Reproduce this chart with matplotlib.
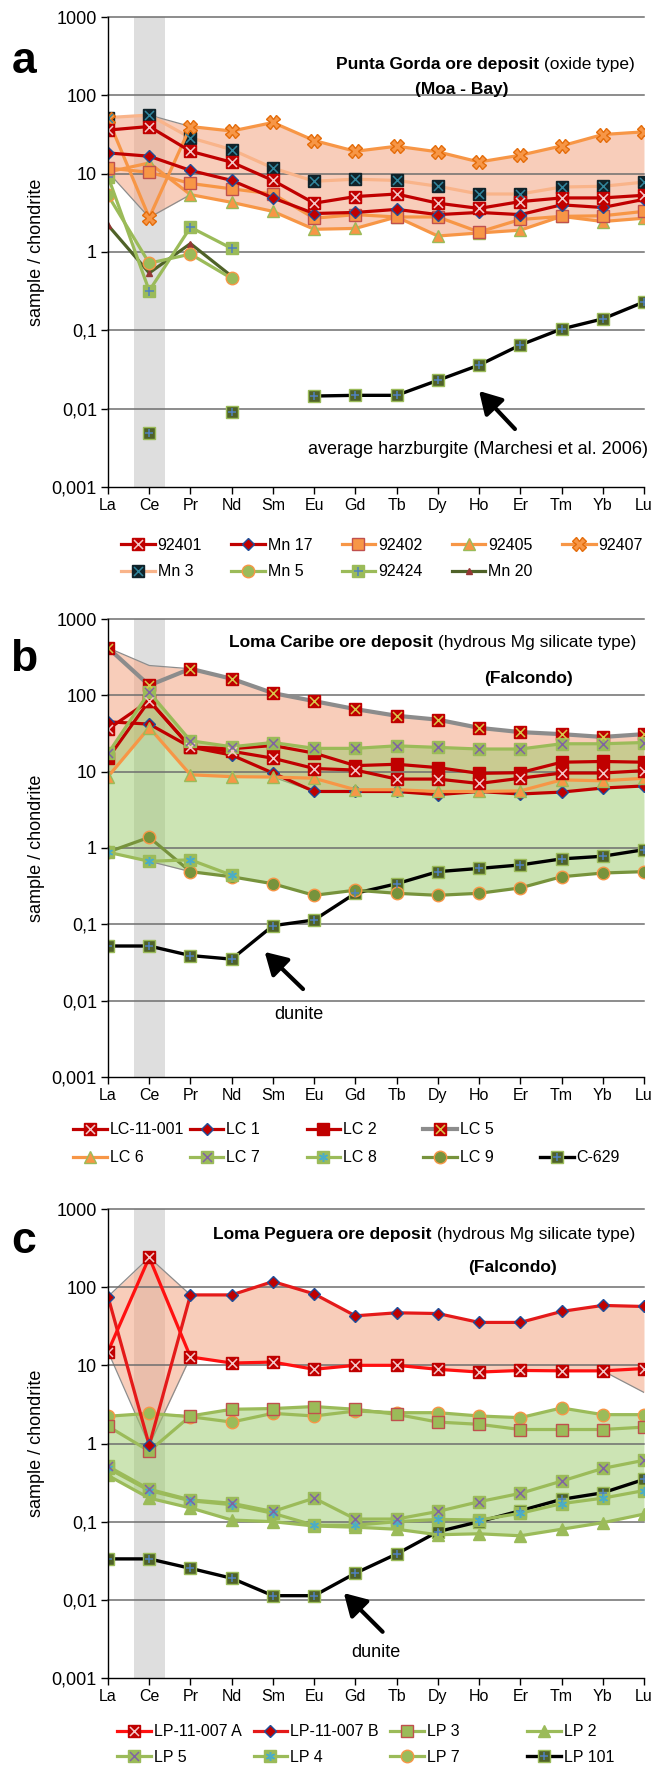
import numpy as np
import matplotlib as mpl
import matplotlib.pyplot as plt
from matplotlib.legend_handler import HandlerTuple

mpl.rcParams['font.family'] = ['Liberation Sans', 'DejaVu Sans']

REE = ["La", "Ce", "Pr", "Nd", "Sm", "Eu", "Gd", "Tb", "Dy", "Ho", "Er", "Tm", "Yb", "Lu"]
YTICKS = [0.001, 0.01, 0.1, 1, 10, 100, 1000]
YLABELS = ["0,001", "0,01", "0,1", "1", "10", "100", "1000"]
nan = np.nan

# a - Punta Gorda (Moa - Bay)
a_92401 = [36, 40, 19.3, 14, 8.2, 4.2, 5.1, 5.5, 4.2, 3.6, 4.4, 4.9, 4.9, 5.3]
a_mn17 = [18.4, 16.7, 11, 8.2, 4.9, 3.1, 3.2, 3.5, 3.0, 3.2, 3.0, 4.0, 3.7, 4.7]
a_92402 = [11.8, 10.4, 7.5, 6.4, 5.5, 2.7, 3.0, 2.8, 2.8, 1.8, 2.6, 2.85, 2.9, 3.3]
a_92405 = [10.5, 13.7, 5.4, 4.3, 3.3, 1.95, 2.0, 2.8, 1.6, 1.75, 1.9, 2.85, 2.45, 2.7]
a_92407 = [50, 2.75, 40, 35, 45, 26.5, 19.3, 22.4, 19, 14.1, 17.2, 22.6, 31.6, 34.2]
a_mn3 = [52, 56, 28.7, 20.3, 11.8, 8.0, 8.5, 8.2, 6.9, 5.5, 5.5, 6.75, 6.9, 7.8]
a_mn5 = [5.3, 0.72, 0.94, 0.46] + [nan] * 10
a_92424 = [9.2, 0.32, 2.07, 1.11] + [nan] * 10
a_mn20 = [2.2, 0.54, 1.28, 0.49] + [nan] * 10
a_harz = [nan, 0.0049, nan, 0.0091, nan, 0.0145, 0.0148, 0.0148, 0.023, 0.036,
          0.065, 0.104, 0.14, 0.23]

# b - Loma Caribe (Falcondo)
b_lc11001 = [36, 85, 21, 18.5, 15, 11, 10.5, 8, 8, 7, 8.2, 9.6, 9.6, 10.3]
b_lc1 = [45, 42, 21, 16.5, 9.6, 5.5, 5.5, 5.5, 5.0, 5.5, 5.1, 5.4, 6.1, 6.5]
b_lc2 = [15, 85, 21, 20, 22, 17.5, 12, 12.5, 11.3, 9.5, 9.7, 13.3, 13.6, 13.3]
b_lc5 = [419, 135, 223, 165, 107, 84, 66, 54, 48, 37.5, 33, 31, 28.5, 31]
b_lc6 = [8.6, 37.8, 9.1, 8.6, 8.5, 8.2, 5.8, 5.8, 5.5, 5.5, 5.6, 7.8, 7.6, 8.2]
b_lc7 = [17.3, 110, 25.4, 21.2, 24.1, 20.2, 20.2, 21.8, 20.8, 19.8, 19.8, 23.2, 23.2, 24.1]
b_lc8 = [0.88, 0.67, 0.70, 0.44] + [nan] * 10
b_lc9 = [0.885, 1.38, 0.49, 0.42, 0.34, 0.24, 0.28, 0.255, 0.24, 0.255, 0.30, 0.42, 0.47, 0.49]
b_c629 = [0.052, 0.052, 0.039, 0.035, 0.096, 0.114, 0.255, 0.34, 0.49, 0.54, 0.60, 0.72, 0.78, 0.95]
b_field_top = [419, 246, 223, 165, 107, 84, 66, 54, 48, 37.5, 33, 31, 28.5, 31]

# c - Loma Peguera (Falcondo)
c_lpA = [15, 240, 12.8, 10.7, 11, 8.9, 10, 10, 8.9, 8.2, 8.6, 8.5, 8.5, 9.1]
c_lpB = [75.8, 0.95, 79.6, 79.6, 118, 82, 43, 47, 46, 35.4, 35.4, 48.9, 58.4, 56.6]
c_lp3 = [1.66, 0.80, 2.25, 2.74, 2.8, 2.97, 2.74, 2.36, 1.88, 1.76, 1.51, 1.51, 1.51, 1.62]
c_lp2 = [0.39, 0.20, 0.15, 0.105, 0.10, 0.088, 0.085, 0.080, 0.068, 0.070, 0.066, 0.080, 0.097, 0.125]
c_lp5 = [0.51, 0.26, 0.19, 0.172, 0.135, 0.20, 0.108, 0.108, 0.135, 0.18, 0.23, 0.33, 0.48, 0.61]
c_lp4 = [0.48, 0.25, 0.185, 0.165, 0.128, 0.09, 0.09, 0.10, 0.107, 0.105, 0.128, 0.17, 0.20, 0.25]
c_lp7 = [2.23, 2.43, 2.2, 1.88, 2.43, 2.25, 2.6, 2.48, 2.48, 2.25, 2.14, 2.85, 2.34, 2.34]
c_lp101 = [0.0334, 0.0334, 0.0253, 0.0189, 0.0113, 0.0113, 0.0219, 0.0386, 0.0745, 0.10,
           0.138, 0.193, 0.234, 0.347]
c_field_low = [15, 0.95, 12.8, 10.7, 11, 8.9, 10, 10, 8.9, 8.2, 8.6, 8.5, 8.5, 4.5]

RED = '#C00000'
ORANGE = '#F79646'
LORANGE = '#F9B48A'
LGREEN = '#9BBB59'
OLIVE = '#77933C'
DOLIVE = '#4F6228'
BLUE = '#4F81BD'
PINK = '#F4C7C7'
SALMON = '#F4A582'
GREEN = '#9BCB6A'
ASTER = (6, 2, 0)

W, H = 654, 1766
X = np.arange(len(REE))
fig = plt.figure(figsize=(W / 100, H / 100), dpi=100)


def make_ax(top, bottom):
    ax = fig.add_axes([108 / W, 1 - bottom / H, 536 / W, (bottom - top) / H])
    ax.set_yscale('log')
    ax.set_ylim(0.001, 1000)
    ax.set_xlim(0, 13)
    ax.set_xticks(X)
    ax.set_xticklabels(REE, fontsize=11.5)
    ax.set_yticks(YTICKS)
    ax.set_yticklabels(YLABELS, fontsize=13)
    ax.yaxis.set_minor_locator(mpl.ticker.NullLocator())
    for s in ['top', 'right']:
        ax.spines[s].set_visible(False)
    for s in ['left', 'bottom']:
        ax.spines[s].set_linewidth(1.0)
        ax.spines[s].set_zorder(6)
    ax.tick_params(direction='out', length=5, width=1, pad=3)
    for v in YTICKS[1:]:
        ax.axhline(v, color='#6E6E6E', lw=1.1, zorder=1.7, clip_on=False)
    ax.axvspan(0.63, 1.38, color='#DEDEDE', lw=0, zorder=0.5)
    ax.set_ylabel('sample / chondrite', fontsize=13)
    ax.yaxis.set_label_coords(-(108 - 45) / 536, 0.5)
    return ax


def draw(ax, y, lc, mk, mfc, mec, ms=9, lw=2.3, over=None, oc=None, z=4):
    h1, = ax.plot(X, y, color=lc, lw=lw, marker=mk, ms=ms, mfc=mfc, mec=mec,
                  mew=1, zorder=z)
    if over is None:
        return h1
    h2, = ax.plot(X, y, ls='none', marker=over, ms=ms * 0.72, mec=oc, mfc=oc,
                  mew=1.1, zorder=z + 0.1)
    return (h1, h2)


def field(ax, lo, hi, color, alpha, z, edge='#8C8C8C'):
    ax.fill_between(X, lo, hi, color=color, alpha=alpha, lw=0, zorder=z)
    ax.plot(X, lo, color=edge, lw=0.9, zorder=z + 0.05)
    ax.plot(X, hi, color=edge, lw=0.9, zorder=z + 0.05)


def title(ax, bold, reg, xr, y, line2, x2, y2):
    t = ax.text(xr, y, reg, transform=ax.transAxes, ha='right', va='center',
                fontsize=12.5)
    fig.canvas.draw()
    bb = t.get_window_extent()
    x0 = ax.transAxes.inverted().transform((bb.x0, bb.y0))[0]
    ax.text(x0, y, bold, transform=ax.transAxes, ha='right', va='center',
            fontsize=12.5, fontweight='bold')
    ax.text(x2, y2, line2, transform=ax.transAxes, ha='center', va='center',
            fontsize=12.5, fontweight='bold')


def legend(handles, labels, x0, pitch, y):
    for i, (hh, lab) in enumerate(zip(handles, labels)):
        fig.legend([hh], [lab], loc='center left',
                   bbox_to_anchor=((x0 + i * pitch) / W, 1 - y / H),
                   frameon=False, borderpad=0, borderaxespad=0,
                   handlelength=2.1, handletextpad=0.2, fontsize=11.5,
                   handler_map={tuple: HandlerTuple(ndivide=1)})


def arrow(ax, tip, tail, text, tpos, ha='center'):
    ax.annotate('', xy=tip, xytext=tail,
                arrowprops=dict(arrowstyle='-|>,head_length=0.6,head_width=0.35',
                                color='black', lw=3, mutation_scale=22,
                                shrinkA=0, shrinkB=0), zorder=7)
    ax.text(tpos[0], tpos[1], text, ha=ha, va='center', fontsize=13, zorder=7)


# ---------------- panel a ----------------
ax = make_ax(17, 487)
reds_a = np.array([a_92401, a_mn17, a_92402, a_92405, a_92407, a_mn3])
field(ax, reds_a.min(axis=0), reds_a.max(axis=0), SALMON, 0.55, 1.5)
hA = {}
hA['Mn 20'] = draw(ax, a_mn20, DOLIVE, '^', '#953735', '#953735', ms=4)
hA['Mn 5'] = draw(ax, a_mn5, LGREEN, 'o', LGREEN, ORANGE)
hA['92424'] = draw(ax, a_92424, LGREEN, 's', LGREEN, LGREEN, over='+', oc=BLUE)
draw(ax, a_harz, 'black', 's', DOLIVE, LGREEN, ms=8.5, lw=2.4, over='+', oc=BLUE)
hA['Mn 3'] = draw(ax, a_mn3, LORANGE, 's', '#10232A', '#10232A', over='x', oc='#31859C')
hA['92405'] = draw(ax, a_92405, ORANGE, '^', ORANGE, LGREEN)
hA['92402'] = draw(ax, a_92402, ORANGE, 's', ORANGE, '#C0504D')
hA['92407'] = draw(ax, a_92407, ORANGE, 'X', ORANGE, '#E46C0A', ms=10)
hA['Mn 17'] = draw(ax, a_mn17, RED, 'D', RED, '#1F4E9A', ms=6.5)
hA['92401'] = draw(ax, a_92401, RED, 's', RED, RED, over='x', oc=PINK)
title(ax, 'Punta Gorda ore deposit', ' (oxide type)', 0.983, 0.900,
      '(Moa - Bay)', 0.660, 0.845)
arrow(ax, (9.0, 0.0168), (9.87, 0.0055),
      'average harzburgite (Marchesi et al. 2006)', (13.1, 0.00305), ha='right')
fig.text(24 / W, 1 - 73 / H, 'a', fontsize=32, fontweight='bold', ha='center', va='baseline')
legA1 = ['92401', 'Mn 17', '92402', '92405', '92407']
legA2 = ['Mn 3', 'Mn 5', '92424', 'Mn 20']
legend([hA[k] for k in legA1], legA1, 121, 110.25, 545)
legend([hA[k] for k in legA2], legA2, 121, 110.25, 572)

# ---------------- panel b ----------------
ax = make_ax(619, 1077)
reds_b = np.array([b_lc11001, b_lc1, b_lc2, b_lc5, b_lc6])
greens_b = np.array([b_lc7, b_lc8, b_lc9])
field(ax, reds_b.min(axis=0), b_field_top, SALMON, 0.55, 1.5)
field(ax, np.nanmin(greens_b, axis=0), np.nanmax(greens_b, axis=0), GREEN, 0.5, 1.6)
hB = {}
hB['C-629'] = draw(ax, b_c629, 'black', 's', DOLIVE, LGREEN, ms=8.5, lw=2.4, over='+', oc=BLUE)
hB['LC 9'] = draw(ax, b_lc9, OLIVE, 'o', OLIVE, ORANGE)
hB['LC 8'] = draw(ax, b_lc8, LGREEN, 's', LGREEN, LGREEN, over=ASTER, oc='#4BACC6')
hB['LC 5'] = draw(ax, b_lc5, '#8C8C8C', 's', RED, RED, lw=3, over='x', oc='#D8C64A')
hB['LC 1'] = draw(ax, b_lc1, RED, 'D', RED, '#1F4E9A', ms=6.5)
hB['LC 6'] = draw(ax, b_lc6, ORANGE, '^', ORANGE, LGREEN)
hB['LC 2'] = draw(ax, b_lc2, RED, 's', RED, RED)
hB['LC-11-001'] = draw(ax, b_lc11001, RED, 's', RED, RED, over='x', oc=PINK)
hB['LC 7'] = draw(ax, b_lc7, LGREEN, 's', LGREEN, LGREEN, over='x', oc='#8064A2')
title(ax, 'Loma Caribe ore deposit', ' (hydrous Mg silicate type)', 0.985, 0.948,
      '(Falcondo)', 0.785, 0.871)
arrow(ax, (3.80, 0.0435), (4.73, 0.0142), 'dunite', (4.63, 0.0065))
fig.text(24 / W, 1 - 671 / H, 'b', fontsize=32, fontweight='bold', ha='center', va='baseline')
legB1 = ['LC-11-001', 'LC 1', 'LC 2', 'LC 5']
legB2 = ['LC 6', 'LC 7', 'LC 8', 'LC 9', 'C-629']
legend([hB[k] for k in legB1], legB1, 73, 116.75, 1130)
legend([hB[k] for k in legB2], legB2, 73, 116.75, 1158)

# ---------------- panel c ----------------
ax = make_ax(1209, 1678)
reds_c = np.array([c_lpA, c_lpB])
greens_c = np.array([c_lp3, c_lp2, c_lp5, c_lp4, c_lp7])
field(ax, c_field_low, reds_c.max(axis=0), SALMON, 0.55, 1.5)
field(ax, greens_c.min(axis=0), greens_c.max(axis=0), GREEN, 0.5, 1.6, edge='#5E7040')
hC = {}
hC['LP 101'] = draw(ax, c_lp101, 'black', 's', DOLIVE, LGREEN, ms=8.5, lw=2.4, over='+', oc=BLUE)
hC['LP 2'] = draw(ax, c_lp2, LGREEN, '^', LGREEN, LGREEN)
hC['LP 4'] = draw(ax, c_lp4, LGREEN, 's', LGREEN, LGREEN, over=ASTER, oc='#4BACC6')
hC['LP 5'] = draw(ax, c_lp5, LGREEN, 's', LGREEN, LGREEN, over='x', oc='#8064A2')
hC['LP 7'] = draw(ax, c_lp7, LGREEN, 'o', LGREEN, ORANGE)
hC['LP 3'] = draw(ax, c_lp3, LGREEN, 's', LGREEN, '#C0504D')
hC['LP-11-007 B'] = draw(ax, c_lpB, '#E41A1A', 'D', RED, '#1F4E9A', ms=6.5)
hC['LP-11-007 A'] = draw(ax, c_lpA, '#FF1010', 's', RED, RED, over='x', oc=PINK)
title(ax, 'Loma Peguera ore deposit', ' (hydrous Mg silicate type)', 0.983, 0.945,
      '(Falcondo)', 0.754, 0.875)
arrow(ax, (5.72, 0.0122), (6.66, 0.0039), 'dunite', (6.5, 0.00215))
fig.text(24 / W, 1 - 1253 / H, 'c', fontsize=32, fontweight='bold', ha='center', va='baseline')
legC1 = ['LP-11-007 A', 'LP-11-007 B', 'LP 3', 'LP 2']
legC2 = ['LP 5', 'LP 4', 'LP 7', 'LP 101']
legend([hC[k] for k in legC1], legC1, 117, 136.7, 1732)
legend([hC[k] for k in legC2], legC2, 117, 136.7, 1757)

fig.savefig('out.png', dpi=100)
